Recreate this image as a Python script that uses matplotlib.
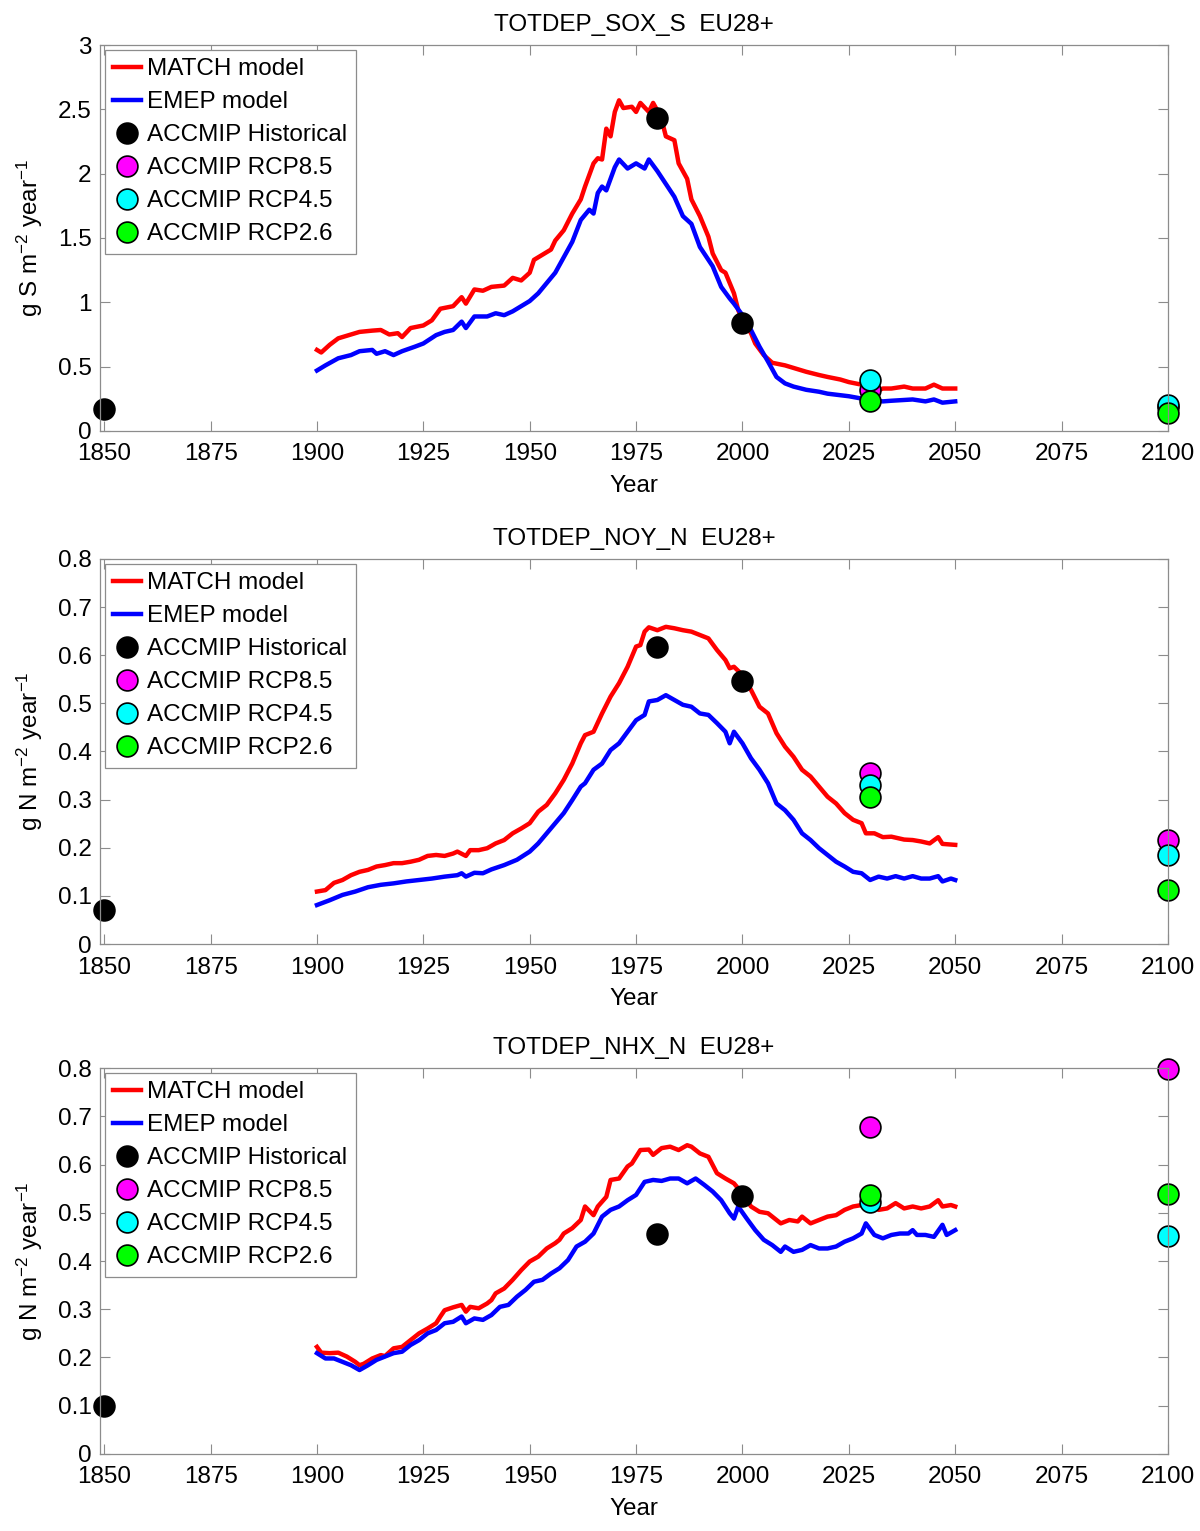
import matplotlib
matplotlib.use("Agg")
import matplotlib.pyplot as plt
from matplotlib.ticker import FuncFormatter

# ---- panel 1: TOTDEP_SOX_S ----
sox_match_years = [1900, 1901, 1903, 1905, 1908, 1910, 1913, 1915, 1917, 1919, 1920, 1922, 1925, 1927,
                   1929, 1932, 1934, 1935, 1937, 1939, 1941, 1944, 1946, 1948, 1950, 1951, 1953, 1955,
                   1956, 1958, 1960, 1962, 1963, 1965, 1966, 1967, 1968, 1969, 1970, 1971, 1972, 1974,
                   1975, 1976, 1978, 1979, 1980, 1981, 1982, 1984, 1985, 1987, 1988, 1990, 1992, 1993,
                   1995, 1996, 1998, 1999, 2000, 2002, 2003, 2005, 2007, 2010, 2012, 2015, 2018, 2020,
                   2023, 2025, 2028, 2030, 2031, 2033, 2035, 2038, 2040, 2043, 2045, 2047, 2050]
sox_match = [0.63, 0.61, 0.67, 0.72, 0.75, 0.77, 0.78, 0.785, 0.75, 0.76, 0.73, 0.80, 0.82, 0.86,
             0.95, 0.97, 1.04, 0.99, 1.10, 1.09, 1.12, 1.13, 1.19, 1.17, 1.23, 1.33, 1.37, 1.41,
             1.48, 1.56, 1.69, 1.80, 1.90, 2.08, 2.12, 2.11, 2.35, 2.29, 2.48, 2.57, 2.51, 2.52,
             2.48, 2.55, 2.48, 2.55, 2.49, 2.42, 2.29, 2.26, 2.08, 1.96, 1.80, 1.67, 1.51, 1.38,
             1.25, 1.23, 1.07, 0.94, 0.86, 0.76, 0.68, 0.59, 0.53, 0.51, 0.49, 0.46, 0.435, 0.42,
             0.40, 0.38, 0.36, 0.345, 0.305, 0.33, 0.33, 0.345, 0.33, 0.33, 0.36, 0.33, 0.33]
sox_emep_years = [1900, 1902, 1905, 1908, 1910, 1913, 1914, 1916, 1918, 1920, 1923, 1925, 1928, 1930,
                  1932, 1934, 1935, 1937, 1940, 1942, 1944, 1946, 1948, 1950, 1952, 1954, 1956, 1958,
                  1960, 1962, 1964, 1965, 1966, 1967, 1968, 1970, 1971, 1973, 1975, 1977, 1978, 1980,
                  1982, 1984, 1986, 1988, 1990, 1993, 1995, 1997, 1998, 2000, 2002, 2004, 2006, 2008,
                  2010, 2012, 2015, 2018, 2020, 2025, 2030, 2033, 2035, 2040, 2043, 2045, 2047, 2050]
sox_emep = [0.47, 0.51, 0.565, 0.59, 0.62, 0.63, 0.60, 0.62, 0.59, 0.62, 0.655, 0.68, 0.745, 0.77,
            0.785, 0.85, 0.80, 0.89, 0.89, 0.915, 0.90, 0.93, 0.97, 1.01, 1.07, 1.15, 1.23, 1.35,
            1.47, 1.64, 1.72, 1.69, 1.85, 1.90, 1.87, 2.05, 2.11, 2.04, 2.08, 2.04, 2.11, 2.02,
            1.92, 1.82, 1.67, 1.61, 1.43, 1.28, 1.12, 1.03, 0.99, 0.90, 0.785, 0.655, 0.54, 0.42,
            0.37, 0.345, 0.32, 0.305, 0.29, 0.27, 0.24, 0.23, 0.235, 0.245, 0.23, 0.245, 0.22, 0.23]
sox_hist_years = [1850, 1980, 2000]
sox_hist = [0.17, 2.43, 0.84]
sox_rcp_years = [2030, 2100]
sox_rcp85 = [0.32, 0.19]
sox_rcp45 = [0.40, 0.20]
sox_rcp26 = [0.235, 0.14]

# ---- panel 2: TOTDEP_NOY_N ----
noy_match_years = [1900, 1902, 1904, 1906, 1908, 1910, 1912, 1914, 1916, 1918, 1920, 1922, 1924, 1926,
                   1928, 1930, 1932, 1933, 1935, 1936, 1938, 1940, 1942, 1944, 1946, 1948, 1950, 1952,
                   1954, 1956, 1958, 1960, 1962, 1963, 1965, 1967, 1969, 1971, 1973, 1975, 1976, 1977,
                   1978, 1980, 1982, 1984, 1986, 1988, 1990, 1992, 1994, 1996, 1997, 1998, 2000, 2002,
                   2004, 2006, 2008, 2010, 2012, 2014, 2016, 2018, 2020, 2022, 2024, 2026, 2028, 2029,
                   2031, 2033, 2035, 2038, 2040, 2042, 2044, 2046, 2047, 2050]
noy_match = [0.109, 0.112, 0.127, 0.133, 0.143, 0.150, 0.154, 0.161, 0.164, 0.168, 0.168, 0.171, 0.175, 0.183,
             0.185, 0.183, 0.188, 0.192, 0.183, 0.195, 0.195, 0.199, 0.209, 0.216, 0.230, 0.240, 0.251, 0.275,
             0.289, 0.313, 0.341, 0.375, 0.417, 0.434, 0.441, 0.479, 0.514, 0.542, 0.576, 0.618, 0.621, 0.649,
             0.658, 0.652, 0.659, 0.656, 0.652, 0.649, 0.642, 0.635, 0.611, 0.590, 0.573, 0.576, 0.559, 0.528,
             0.493, 0.479, 0.438, 0.410, 0.389, 0.362, 0.348, 0.327, 0.306, 0.292, 0.272, 0.258, 0.251, 0.230,
             0.230, 0.222, 0.223, 0.217, 0.216, 0.213, 0.209, 0.222, 0.208, 0.206]
noy_emep_years = [1900, 1903, 1906, 1909, 1912, 1915, 1918, 1921, 1924, 1927, 1930, 1933, 1934, 1935,
                  1937, 1939, 1941, 1944, 1947, 1950, 1952, 1954, 1956, 1958, 1960, 1962, 1963, 1965,
                  1967, 1969, 1971, 1973, 1975, 1977, 1978, 1980, 1982, 1984, 1986, 1988, 1990, 1992,
                  1994, 1996, 1997, 1998, 2000, 2002, 2004, 2006, 2008, 2010, 2012, 2014, 2016, 2018,
                  2020, 2022, 2024, 2026, 2028, 2030, 2032, 2034, 2036, 2038, 2040, 2042, 2044, 2046,
                  2047, 2049, 2050]
noy_emep = [0.081, 0.091, 0.102, 0.109, 0.118, 0.123, 0.126, 0.130, 0.133, 0.136, 0.140, 0.143, 0.147, 0.140,
            0.148, 0.147, 0.155, 0.164, 0.175, 0.192, 0.209, 0.230, 0.251, 0.272, 0.299, 0.327, 0.334, 0.362,
            0.375, 0.403, 0.417, 0.441, 0.465, 0.476, 0.504, 0.507, 0.517, 0.507, 0.497, 0.493, 0.479, 0.476,
            0.459, 0.441, 0.417, 0.441, 0.417, 0.386, 0.362, 0.334, 0.292, 0.278, 0.258, 0.230, 0.216, 0.199,
            0.185, 0.171, 0.161, 0.150, 0.147, 0.133, 0.140, 0.136, 0.141, 0.136, 0.141, 0.136, 0.136, 0.141,
            0.130, 0.136, 0.133]
noy_hist_years = [1850, 1980, 2000]
noy_hist = [0.07, 0.617, 0.546]
noy_rcp_years = [2030, 2100]
noy_rcp85 = [0.355, 0.216]
noy_rcp45 = [0.330, 0.185]
noy_rcp26 = [0.306, 0.112]

# ---- panel 3: TOTDEP_NHX_N ----
nhx_match_years = [1900, 1901, 1903, 1905, 1907, 1909, 1910, 1911, 1913, 1915, 1916, 1918, 1920, 1922,
                   1924, 1926, 1928, 1929, 1930, 1932, 1934, 1935, 1936, 1938, 1940, 1941, 1942, 1944,
                   1946, 1948, 1950, 1952, 1954, 1956, 1957, 1958, 1960, 1962, 1963, 1965, 1966, 1968,
                   1969, 1971, 1973, 1974, 1976, 1978, 1979, 1981, 1983, 1985, 1987, 1988, 1990, 1992,
                   1994, 1996, 1998, 2000, 2002, 2004, 2006, 2008, 2009, 2011, 2013, 2014, 2016, 2018,
                   2020, 2022, 2024, 2026, 2028, 2030, 2032, 2034, 2036, 2038, 2040, 2042, 2044, 2046,
                   2047, 2049, 2050]
nhx_match = [0.222, 0.210, 0.209, 0.210, 0.202, 0.191, 0.184, 0.187, 0.198, 0.205, 0.203, 0.219, 0.222, 0.236,
             0.250, 0.260, 0.271, 0.285, 0.298, 0.304, 0.309, 0.295, 0.305, 0.302, 0.312, 0.319, 0.333, 0.343,
             0.361, 0.381, 0.399, 0.409, 0.426, 0.437, 0.444, 0.457, 0.468, 0.485, 0.513, 0.495, 0.513, 0.533,
             0.568, 0.571, 0.596, 0.602, 0.630, 0.631, 0.620, 0.634, 0.637, 0.630, 0.640, 0.637, 0.623, 0.616,
             0.582, 0.571, 0.561, 0.540, 0.513, 0.502, 0.499, 0.485, 0.478, 0.485, 0.482, 0.492, 0.478, 0.485,
             0.492, 0.495, 0.506, 0.513, 0.516, 0.520, 0.506, 0.509, 0.520, 0.509, 0.513, 0.509, 0.513, 0.526,
             0.513, 0.516, 0.513]
nhx_emep_years = [1900, 1902, 1904, 1906, 1908, 1910, 1912, 1914, 1916, 1918, 1920, 1922, 1924, 1926,
                  1928, 1930, 1932, 1934, 1935, 1937, 1939, 1941, 1943, 1945, 1947, 1949, 1951, 1953,
                  1955, 1957, 1959, 1961, 1963, 1965, 1967, 1969, 1971, 1973, 1975, 1977, 1979, 1981,
                  1983, 1985, 1987, 1989, 1991, 1993, 1995, 1997, 1998, 1999, 2001, 2003, 2005, 2007,
                  2009, 2010, 2012, 2014, 2016, 2018, 2020, 2022, 2024, 2026, 2028, 2029, 2031, 2033,
                  2035, 2037, 2039, 2040, 2041, 2043, 2045, 2047, 2048, 2050]
nhx_emep = [0.209, 0.198, 0.198, 0.191, 0.184, 0.174, 0.184, 0.195, 0.202, 0.209, 0.212, 0.226, 0.236, 0.250,
            0.257, 0.271, 0.274, 0.285, 0.271, 0.281, 0.278, 0.288, 0.305, 0.309, 0.326, 0.340, 0.357, 0.361,
            0.374, 0.385, 0.402, 0.430, 0.440, 0.457, 0.492, 0.506, 0.513, 0.526, 0.537, 0.564, 0.568, 0.566,
            0.571, 0.571, 0.561, 0.571, 0.558, 0.544, 0.526, 0.499, 0.488, 0.513, 0.488, 0.464, 0.444, 0.433,
            0.419, 0.430, 0.419, 0.423, 0.433, 0.426, 0.426, 0.430, 0.440, 0.447, 0.457, 0.478, 0.454, 0.447,
            0.454, 0.457, 0.457, 0.464, 0.454, 0.454, 0.450, 0.475, 0.454, 0.464]
nhx_hist_years = [1850, 1980, 2000]
nhx_hist = [0.10, 0.457, 0.535]
nhx_rcp_years = [2030, 2100]
nhx_rcp85 = [0.678, 0.798]
nhx_rcp45 = [0.523, 0.452]
nhx_rcp26 = [0.537, 0.539]

titles = ["TOTDEP_SOX_S  EU28+", "TOTDEP_NOY_N  EU28+", "TOTDEP_NHX_N  EU28+"]
ylabels = ["g S m$^{-2}$ year$^{-1}$", "g N m$^{-2}$ year$^{-1}$", "g N m$^{-2}$ year$^{-1}$"]
ymaxes = [3.0, 0.8, 0.8]
ysteps = [0.5, 0.1, 0.1]
xticks = [1850, 1875, 1900, 1925, 1950, 1975, 2000, 2025, 2050, 2075, 2100]

panels = [
    (sox_match_years, sox_match, sox_emep_years, sox_emep, sox_hist_years, sox_hist,
     sox_rcp_years, sox_rcp85, sox_rcp45, sox_rcp26),
    (noy_match_years, noy_match, noy_emep_years, noy_emep, noy_hist_years, noy_hist,
     noy_rcp_years, noy_rcp85, noy_rcp45, noy_rcp26),
    (nhx_match_years, nhx_match, nhx_emep_years, nhx_emep, nhx_hist_years, nhx_hist,
     nhx_rcp_years, nhx_rcp85, nhx_rcp45, nhx_rcp26),
]

plt.rcParams.update({
    "font.family": ["Liberation Sans", "DejaVu Sans"],
    "font.size": 17.5,
    "mathtext.default": "regular",
    "axes.edgecolor": "0.55",
    "axes.linewidth": 0.9,
    "xtick.color": "0.55",
    "ytick.color": "0.55",
    "xtick.labelcolor": "black",
    "ytick.labelcolor": "black",
    "xtick.direction": "in",
    "ytick.direction": "in",
    "xtick.major.size": 7,
    "ytick.major.size": 7,
})

fig = plt.figure(figsize=(12, 15.31), dpi=100)
boxes = [(0.0833, 0.7185, 0.89, 0.2521),
         (0.0833, 0.3834, 0.89, 0.2515),
         (0.0833, 0.0503, 0.89, 0.2521)]

mk = dict(marker="o", linestyle="none", markersize=15, markeredgecolor="black", markeredgewidth=1.2)

for i, (box, data) in enumerate(zip(boxes, panels)):
    (my, mv, ey, ev, hy, hv, ry, r85, r45, r26) = data
    ax = fig.add_axes(box)
    ax.plot(my, mv, color="#ff0000", lw=3.2, label="MATCH model")
    ax.plot(ey, ev, color="#0000ff", lw=3.2, label="EMEP model")
    ax.plot(hy, hv, markerfacecolor="black", label="ACCMIP Historical", clip_on=False, **mk)
    ax.plot(ry, r85, markerfacecolor="#ff00ff", label="ACCMIP RCP8.5", clip_on=False, **mk)
    ax.plot(ry, r45, markerfacecolor="#00ffff", label="ACCMIP RCP4.5", clip_on=False, **mk)
    ax.plot(ry, r26, markerfacecolor="#00ff00", label="ACCMIP RCP2.6", clip_on=False, **mk)

    ax.set_xlim(1849, 2100)
    ax.set_ylim(0, ymaxes[i])
    ax.set_xticks(xticks)
    n = int(round(ymaxes[i] / ysteps[i]))
    ax.set_yticks([round(k * ysteps[i], 2) for k in range(n + 1)])
    ax.yaxis.set_major_formatter(FuncFormatter(lambda v, p: f"{v:g}"))
    ax.tick_params(top=True, right=True)
    ax.tick_params(axis="x", pad=9)
    ax.tick_params(axis="y", pad=6)
    ax.set_title(titles[i], pad=10, fontsize=17.5)
    ax.set_xlabel("Year", labelpad=7)
    ax.set_ylabel(ylabels[i], labelpad=9)
    leg = ax.legend(loc="upper left", borderaxespad=0.2, handlelength=1.15, handletextpad=0.25,
                    labelspacing=0.45, borderpad=0.35, fancybox=False, framealpha=1)
    leg.get_frame().set_edgecolor("0.55")
    leg.get_frame().set_linewidth(0.9)

fig.savefig("out.png", dpi=100)
